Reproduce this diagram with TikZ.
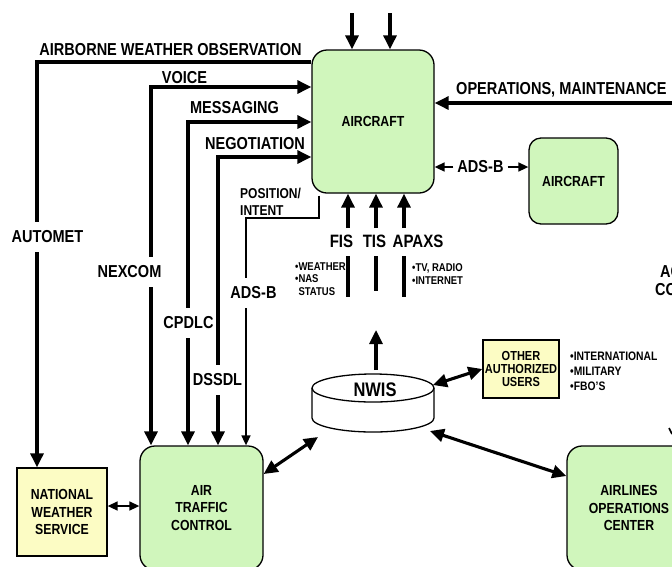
\documentclass[tikz,border=0pt]{standalone}
\usepackage{fontspec}
\setmainfont{Liberation Sans}[FakeStretch=0.84]
\usetikzlibrary{arrows.meta}
\definecolor{acgreen}{RGB}{208,246,188}
\definecolor{nwsyellow}{RGB}{252,252,196}
\tikzset{
  greenbox/.style={draw,fill=acgreen,rounded corners=15pt,line width=1.3pt,align=center,inner sep=0pt,font=\bfseries\fontsize{14.6}{17.5}\selectfont},
  yellowbox/.style={draw,fill=nwsyellow,line width=1.3pt,align=center,inner sep=0pt,font=\bfseries\fontsize{14.6}{17.5}\selectfont},
  lbl/.style={draw=none,inner sep=0pt,align=center,font=\bfseries\fontsize{17.3}{17}\selectfont},
  cut/.style={lbl,outer xsep=0pt,outer ysep=9pt},
  notes/.style={draw=none,inner sep=0pt,align=left,font=\bfseries\fontsize{11.3}{12.5}\selectfont},
  bigline/.style={line width=3.1pt},
  bigarrow/.style={bigline,-{Triangle[length=14pt,width=13pt]}},
  bigboth/.style={bigline,{Triangle[length=14pt,width=13pt]}-{Triangle[length=14pt,width=13pt]}},
  thinline/.style={line width=1.6pt},
  thinarrow/.style={thinline,-{Triangle[length=10pt,width=9pt]}},
  thinboth/.style={thinline,{Triangle[length=10pt,width=9pt]}-{Triangle[length=10pt,width=9pt]}},
}
\begin{document}
\begin{tikzpicture}
\useasboundingbox (0pt,0pt) rectangle (672pt,-566pt);
\clip (0pt,0pt) rectangle (672pt,-566pt);
\node[greenbox,minimum width=122pt,minimum height=143pt] (acbig) at (373pt,-121.5pt) {AIRCRAFT};
\node[greenbox,rounded corners=12pt,minimum width=89pt,minimum height=86pt] (acsmall) at (573.5pt,-181pt) {AIRCRAFT};
\node[greenbox,minimum width=123pt,minimum height=124pt] (atc) at (201.5pt,-508pt) {AIR\\TRAFFIC\\CONTROL};
\node[greenbox,minimum width=124pt,minimum height=124pt] (aoc) at (629pt,-508pt) {AIRLINES\\OPERATIONS\\CENTER};
\node[yellowbox,minimum width=90pt,minimum height=88pt] (nws) at (62pt,-512pt) {NATIONAL\\WEATHER\\SERVICE};
\node[yellowbox,minimum width=76pt,minimum height=58pt,font=\bfseries\fontsize{13.1}{13}\selectfont] (users) at (521pt,-369pt) {OTHER\\AUTHORIZED\\USERS};
\draw[line width=1.3pt,fill=white] (312pt,-388pt) -- (312pt,-418pt) arc[start angle=180,end angle=360,x radius=61pt,y radius=14pt] -- (434pt,-388pt);
\draw[line width=1.3pt,fill=white] (373pt,-388pt) ellipse[x radius=61pt,y radius=14pt];
\node[lbl,font=\bfseries\fontsize{19.6}{20}\selectfont] (nwis) at (375pt,-390pt) {NWIS};
\coordinate (nwisUp) at (376pt,-370pt);
\coordinate (nwisNE) at (433pt,-385pt);
\coordinate (nwisSE) at (430pt,-431pt);
\coordinate (nwisSW) at (318pt,-437pt);
\node[lbl] (awolbl) at (170.5pt,-50pt) {AIRBORNE WEATHER OBSERVATION};
\node[lbl] (voicelbl) at (184.5pt,-78pt) {VOICE};
\node[lbl] (msglbl) at (234.5pt,-108pt) {MESSAGING};
\node[lbl] (neglbl) at (255pt,-144pt) {NEGOTIATION};
\node[lbl,align=left,anchor=west,font=\bfseries\fontsize{14.3}{17.5}\selectfont] (poslbl) at (240pt,-202pt) {POSITION/\\INTENT};
\node[lbl,anchor=west] (opslbl) at (456pt,-90pt) {OPERATIONS, MAINTENANCE};
\node[lbl,outer xsep=4pt] (adsbair) at (480.5pt,-167pt) {ADS-B};
\node[cut] (automet) at (47.5pt,-237pt) {AUTOMET};
\node[cut] (nexcom) at (129.5pt,-272pt) {NEXCOM};
\node[cut] (cpdlc) at (188.5pt,-323pt) {CPDLC};
\node[cut] (dssdl) at (217.5pt,-380pt) {DSSDL};
\node[cut] (adsbatc) at (253.5pt,-293pt) {ADS-B};
\node[cut,font=\bfseries\fontsize{17.9}{17}\selectfont] (fis) at (341.5pt,-241pt) {FIS};
\node[cut,font=\bfseries\fontsize{17.9}{17}\selectfont] (tis) at (374.5pt,-241pt) {TIS};
\node[cut,font=\bfseries\fontsize{17.9}{17}\selectfont] (apaxs) at (418pt,-241pt) {APAXS};
\node[notes,anchor=north west] (wxnotes) at (295pt,-262.5pt) {•WEATHER\\•NAS\\\phantom{•}STATUS};
\node[notes,anchor=north west] (tvnotes) at (412pt,-263.5pt) {•TV, RADIO\\•INTERNET};
\node[notes,anchor=north west,font=\bfseries\fontsize{12.3}{15}\selectfont] (usernotes) at (570pt,-352pt) {•INTERNATIONAL\\•MILITARY\\•FBO’S};
\node[lbl,align=left,anchor=west,font=\bfseries\fontsize{17.3}{18}\selectfont] (edgelbl) at (655pt,-281pt) {\hspace*{5pt}AC\\CO};
\coordinate (topA) at (352pt,-13pt);
\coordinate (topB) at (390pt,-13pt);
\draw[bigarrow] (topA) -- (topA |- acbig.north);
\draw[bigarrow] (topB) -- (topB |- acbig.north);
\coordinate (opsEnd) at (672pt,-103pt);
\draw[bigarrow] (opsEnd) -- (opsEnd -| acbig.east);
\draw[thinarrow] (adsbair.west) -- (adsbair.west -| acbig.east);
\draw[thinarrow] (adsbair.east) -- (adsbair.east -| acsmall.west);
\coordinate (awoCorner) at (37pt,-62pt);
\draw[bigline] (awoCorner -| acbig.west) -- (awoCorner) -- (automet.north -| awoCorner);
\draw[bigarrow] (automet.south -| awoCorner) -- (awoCorner |- nws.north);
\coordinate (voiceCorner) at (151pt,-87pt);
\draw[bigarrow] (nexcom.north -| voiceCorner) -- (voiceCorner) -- (voiceCorner -| acbig.west);
\draw[bigarrow] (nexcom.south -| voiceCorner) -- (voiceCorner |- atc.north);
\coordinate (msgCorner) at (188pt,-122pt);
\draw[bigarrow] (cpdlc.north -| msgCorner) -- (msgCorner) -- (msgCorner -| acbig.west);
\draw[bigarrow] (cpdlc.south -| msgCorner) -- (msgCorner |- atc.north);
\coordinate (negCorner) at (218pt,-157pt);
\draw[bigarrow] (dssdl.north -| negCorner) -- (negCorner) -- (negCorner -| acbig.west);
\draw[bigarrow] (dssdl.south -| negCorner) -- (negCorner |- atc.north);
\coordinate (posCornerA) at (319pt,-218pt);
\coordinate (posCornerB) at (246pt,-218pt);
\draw[thinline] ([yshift=-2pt]posCornerA |- acbig.south) -- (posCornerA) -- (posCornerB) -- (adsbatc.north -| posCornerB);
\draw[thinarrow] (adsbatc.south -| posCornerB) -- (posCornerB |- atc.north);
\coordinate (fisBase) at (348pt,-228pt);
\coordinate (tisBase) at (376pt,-228pt);
\coordinate (apaxsBase) at (404pt,-228pt);
\draw[bigarrow] (fisBase) -- (fisBase |- acbig.south);
\draw[bigarrow] (tisBase) -- (tisBase |- acbig.south);
\draw[bigarrow] (apaxsBase) -- (apaxsBase |- acbig.south);
\draw[bigline] (fis.south -| fisBase) -- ++(0pt,-41pt);
\draw[bigline] (tis.south -| tisBase) -- ++(0pt,-35pt);
\draw[bigline] (apaxs.south -| apaxsBase) -- ++(0pt,-41pt);
\draw[bigarrow] (nwisUp) -- ++(0pt,40pt);
\draw[bigboth] (nwisNE) -- (users.west);
\draw[bigboth] (nwisSE) -- ([yshift=32pt]aoc.west);
\draw[bigboth] ([yshift=34pt]atc.east) -- (nwisSW);
\draw[thinboth] ([yshift=6pt]nws.east) -- ([yshift=6pt]nws.east -| atc.west);
\draw[thinline] (669pt,-428pt) -- (672pt,-434pt);
\end{tikzpicture}
\end{document}
